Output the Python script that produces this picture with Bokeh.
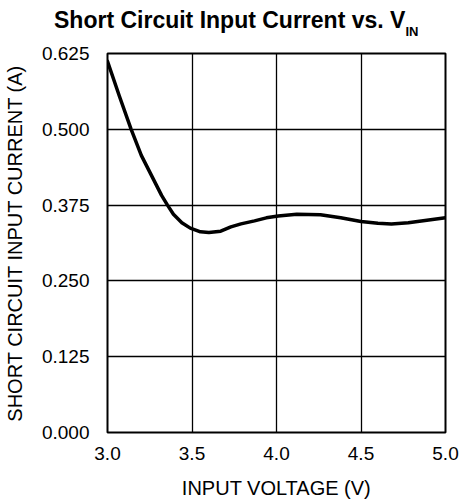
from bokeh.plotting import figure
from bokeh.models import FixedTicker, Range1d, Div
from bokeh.layouts import column
from bokeh.embed import file_html
from bokeh.resources import INLINE

# Data
voltage = [3.0, 3.07, 3.14, 3.20, 3.26, 3.32, 3.355, 3.39, 3.44, 3.49, 3.55, 3.60, 3.67,
           3.73, 3.79, 3.87, 3.94, 4.01, 4.12, 4.26, 4.38, 4.50, 4.60, 4.68, 4.78, 4.89, 5.0]
current = [0.612, 0.555, 0.500, 0.457, 0.424, 0.391, 0.375, 0.360, 0.346, 0.337, 0.331, 0.330, 0.332,
           0.339, 0.344, 0.349, 0.354, 0.357, 0.360, 0.359, 0.354, 0.348, 0.345, 0.344, 0.346, 0.350, 0.354]

x_ticks = [3.0, 3.5, 4.0, 4.5, 5.0]
x_tick_labels = ["3.0", "3.5", "4.0", "4.5", "5.0"]
y_ticks = [0.0, 0.125, 0.25, 0.375, 0.5, 0.625]
y_tick_labels = ["0.000", "0.125", "0.250", "0.375", "0.500", "0.625"]

title_main = "Short Circuit Input Current vs. V"
title_sub = "IN"
x_label = "INPUT VOLTAGE (V)"
y_label = "SHORT CIRCUIT INPUT CURRENT (A)"

FONT = "Liberation Sans"
W = 464
TITLE_H = 40
MAIN_H = 463

# ---- title (real HTML text with a subscript) ----
title_html = (
    '<div style="margin:0; padding:9px 0 0 54px; font-family:\'Liberation Sans\', Arial, sans-serif; '
    'font-size:23px; font-weight:bold; line-height:23px; color:black; white-space:nowrap;">'
    + title_main
    + '<span style="font-size:13px; position:relative; top:7.6px;">' + title_sub + '</span></div>'
)
t = Div(text=title_html, width=W, height=TITLE_H, margin=0)

# ---- main chart ----
p = figure(width=W, height=MAIN_H, output_backend="svg", toolbar_location=None,
           x_range=Range1d(3.0, 5.0), y_range=Range1d(0.0, 0.625),
           min_border_left=107, min_border_right=19, min_border_top=13, min_border_bottom=71)

p.line(voltage, current, line_color="black", line_width=3.5, line_join="round", line_cap="round")

p.outline_line_color = "black"
p.outline_line_width = 2
p.background_fill_color = "white"
p.border_fill_color = "white"

for ax, ticks, labels in ((p.xaxis[0], x_ticks, x_tick_labels), (p.yaxis[0], y_ticks, y_tick_labels)):
    ax.ticker = FixedTicker(ticks=ticks)
    ax.major_label_overrides = {tk: lb for tk, lb in zip(ticks, labels)}
    ax.major_tick_out = 0
    ax.major_tick_in = 0
    ax.minor_tick_out = 0
    ax.minor_tick_in = 0
    ax.axis_line_color = None
    ax.major_label_text_font = FONT
    ax.major_label_text_font_size = "19px"
    ax.major_label_text_color = "black"
    ax.axis_label_text_font = FONT
    ax.axis_label_text_font_size = "20px"
    ax.axis_label_text_font_style = "normal"
    ax.axis_label_text_color = "black"

p.xaxis.axis_label = x_label
p.yaxis.axis_label = y_label
p.xaxis.major_label_standoff = 14
p.xaxis.axis_label_standoff = 14
p.yaxis.major_label_standoff = 18
p.yaxis.axis_label_standoff = 13

p.xgrid.ticker = FixedTicker(ticks=x_ticks)
p.ygrid.ticker = FixedTicker(ticks=y_ticks)
for g in (p.xgrid[0], p.ygrid[0]):
    g.grid_line_color = "black"
    g.grid_line_width = 1.3
    g.grid_line_alpha = 1.0

layout = column(t, p, spacing=0)
open("out.html", "w").write(file_html(layout, INLINE))
